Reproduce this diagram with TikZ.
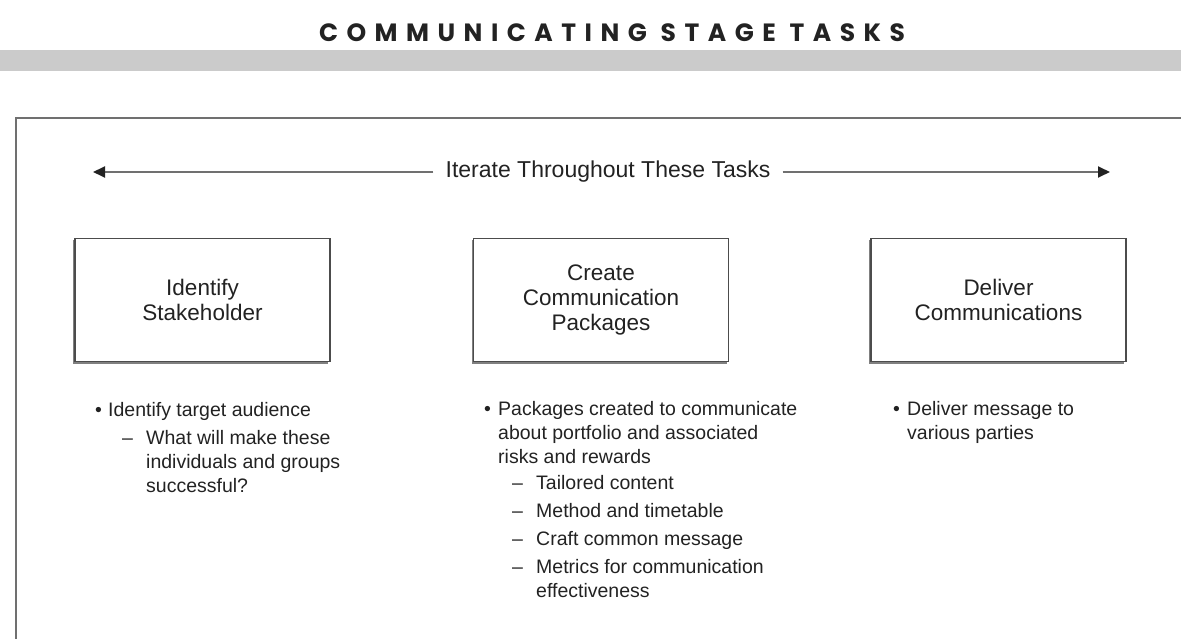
\documentclass[tikz,border=0pt]{standalone}
\usepackage{fontspec}
\setmainfont{Liberation Sans}
\newfontfamily\titlefont{Poppins}[LetterSpace=34]
\usetikzlibrary{arrows.meta,shadows}
\definecolor{ink}{HTML}{222222}
\definecolor{framegray}{HTML}{707070}
\definecolor{bargray}{HTML}{CBCBCB}
\begin{document}
\begin{tikzpicture}[x=1pt,y=-1pt,
  task/.style={draw=black!70, line width=1.6pt, fill=white,
    minimum width=255pt, minimum height=123pt, align=center, text=ink,
    font=\fontsize{22.5}{25}\selectfont,
    drop shadow={shadow xshift=-2pt, shadow yshift=-2pt, fill=black!50, opacity=1}},
  itm/.style={anchor=base west, align=left, inner sep=0pt, text=ink,
    font=\fontsize{19.5}{24}\selectfont},
  bul/.style={anchor=base west, inner sep=0pt, text=ink,
    font=\fontsize{19.5}{24}\selectfont},
  conn/.style={draw=framegray, line width=1.8pt,
    -{Triangle[length=12pt,width=11pt,color=ink]}}
]
\useasboundingbox (0,0) rectangle (1181,639);
% header
\fill[bargray] (0,50) rectangle (1181,71);
\node[font=\titlefont\bfseries\fontsize{25}{30}\selectfont, text=ink, anchor=base] (title) at (612,42) {COMMUNICATING STAGE TASKS};
% frame
\draw[framegray, line width=2pt] (1181,118) -- (16,118) -- (16,639);
% iterate arrow
\node[font=\fontsize{23}{27}\selectfont, text=ink, anchor=base, inner xsep=12pt] (iter) at (608,178) {Iterate Throughout These Tasks};
\coordinate (al) at (93,172);
\coordinate (ar) at (1110,172);
\draw[conn] (al -| iter.west) -- (al);
\draw[conn] (ar -| iter.east) -- (ar);
% task boxes
\node[task] (b1) at (202.5,300) {Identify\\Stakeholder};
\node[task] (b2) at (601,300) {Create\\Communication\\Packages};
\node[task] (b3) at (998.5,300) {Deliver\\Communications};
% column 1 (base anchor = baseline of the last line)
\node[bul] (p1) at (95,416) {\textbullet};
\node[itm] (t1) at (108,416) {Identify target audience};
\node[bul] (p1a) at (122,444) {--};
\node[itm] (t1a) at (146,492) {What will make these\\individuals and groups\\successful?};
% column 2
\node[bul] (p2) at (484,415) {\textbullet};
\node[itm] (t2) at (498,463) {Packages created to communicate\\about portfolio and associated\\risks and rewards};
\node[bul] (p2a) at (512,489) {--};
\node[itm] (t2a) at (536,489) {Tailored content};
\node[bul] (p2b) at (512,517) {--};
\node[itm] (t2b) at (536,517) {Method and timetable};
\node[bul] (p2c) at (512,545) {--};
\node[itm] (t2c) at (536,545) {Craft common message};
\node[bul] (p2d) at (512,573) {--};
\node[itm] (t2d) at (536,597) {Metrics for communication\\effectiveness};
% column 3
\node[bul] (p3) at (893,415) {\textbullet};
\node[itm] (t3) at (907,439) {Deliver message to\\various parties};
\end{tikzpicture}
\end{document}
